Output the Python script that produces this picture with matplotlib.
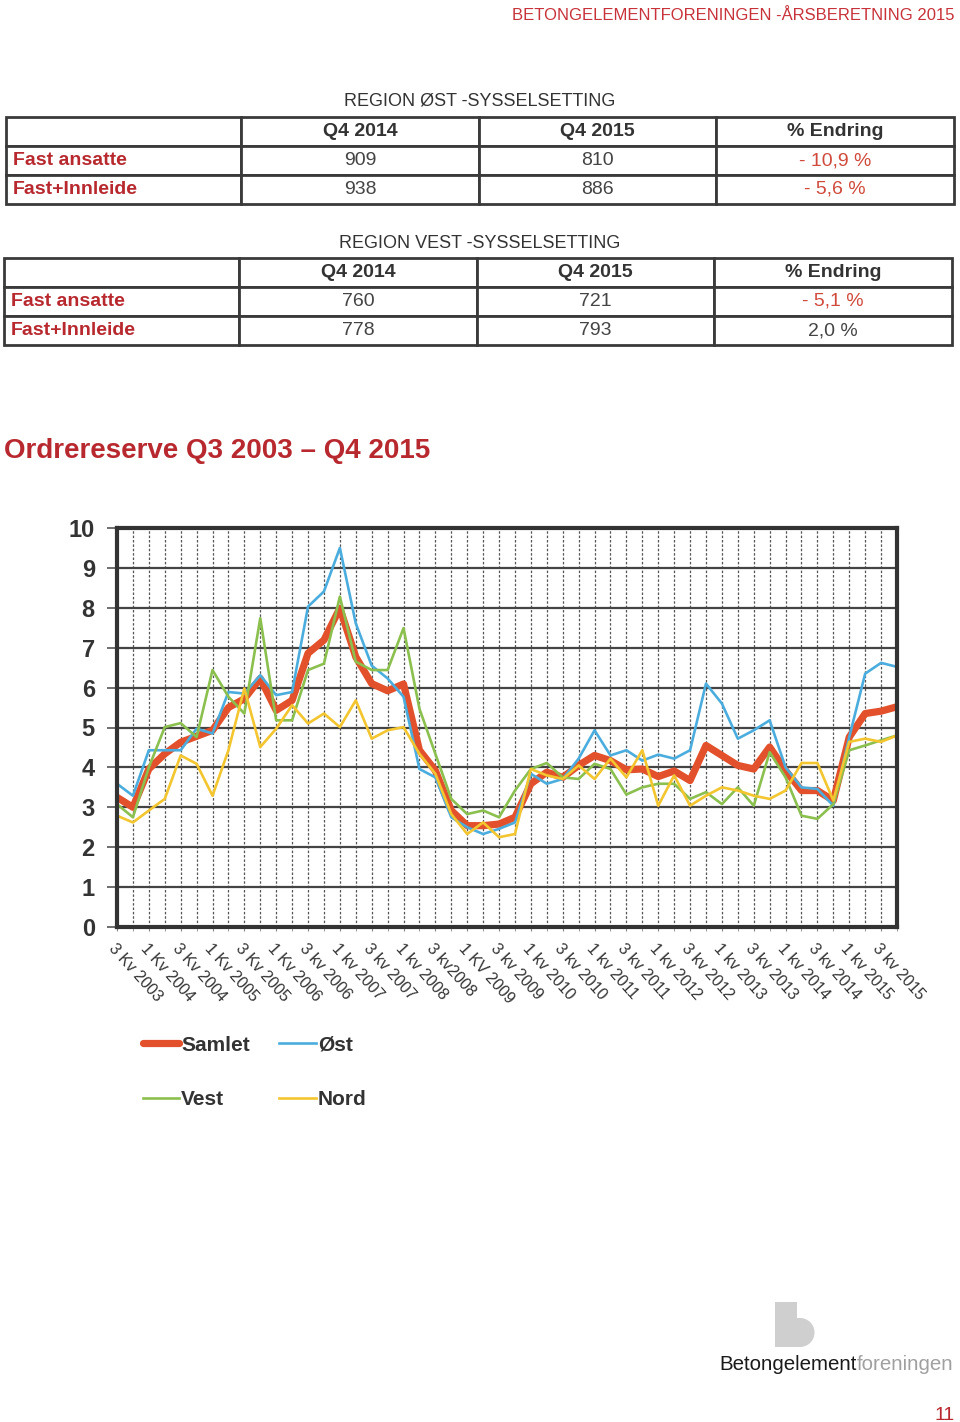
import matplotlib
matplotlib.use("Agg")
import matplotlib.pyplot as plt
import numpy as np
from matplotlib.patches import Rectangle, Wedge

# ---- data ----
quarter_labels = ["3 Kv 2003", "1 Kv 2004", "3 Kv 2004", "1 Kv 2005", "3 Kv 2005",
                  "1 Kv 2006", "3 kv 2006", "1 kv 2007", "3 kv 2007", "1 kv 2008",
                  "3 kv2008", "1 KV 2009", "3 kv 2009", "1 kv 2010", "3 kv 2010",
                  "1 kv 2011", "3 kv 2011", "1 kv 2012", "3 kv 2012", "1 kv 2013",
                  "3 kv 2013", "1 kv 2014", "3 kv 2014", "1 kv 2015", "3 kv 2015"]

samlet = [3.25, 3.0, 3.96, 4.34, 4.63, 4.78, 4.93, 5.5, 5.72, 6.23,
          5.43, 5.68, 6.86, 7.19, 7.99, 6.77, 6.1, 5.92, 6.09, 4.43,
          3.92, 2.92, 2.54, 2.54, 2.58, 2.75, 3.59, 3.88, 3.75, 4.05,
          4.3, 4.17, 3.94, 3.96, 3.77, 3.91, 3.67, 4.55, 4.3, 4.05,
          3.96, 4.51, 3.92, 3.42, 3.42, 3.17, 4.76, 5.35, 5.41, 5.52]
ost = [3.59, 3.29, 4.43, 4.43, 4.43, 4.97, 4.85, 5.89, 5.85, 6.31,
       5.81, 5.89, 8.03, 8.41, 9.5, 7.61, 6.55, 6.23, 5.77, 3.96,
       3.75, 2.75, 2.5, 2.33, 2.46, 2.62, 3.84, 3.59, 3.71, 4.22,
       4.93, 4.3, 4.43, 4.17, 4.32, 4.22, 4.43, 6.1, 5.6, 4.72,
       4.93, 5.18, 4.0, 3.5, 3.46, 3.04, 4.76, 6.35, 6.62, 6.52]
vest = [3.08, 2.75, 4.0, 5.01, 5.11, 4.76, 6.44, 5.77, 5.35, 7.74,
        5.18, 5.18, 6.44, 6.6, 8.28, 6.65, 6.44, 6.44, 7.49, 5.47,
        4.34, 3.21, 2.83, 2.92, 2.75, 3.42, 3.96, 4.11, 3.75, 3.71,
        4.09, 3.96, 3.32, 3.5, 3.59, 3.59, 3.21, 3.38, 3.08, 3.5,
        3.04, 4.38, 3.75, 2.79, 2.71, 3.08, 4.43, 4.55, 4.68, 4.8]
nord = [2.79, 2.62, 2.92, 3.21, 4.3, 4.09, 3.29, 4.43, 5.98, 4.51,
        4.97, 5.56, 5.1, 5.35, 5.01, 5.68, 4.72, 4.93, 5.01, 4.34,
        3.84, 2.83, 2.33, 2.62, 2.25, 2.33, 3.96, 3.8, 3.71, 4.05,
        3.71, 4.22, 3.75, 4.43, 3.04, 3.8, 3.04, 3.29, 3.5, 3.42,
        3.29, 3.21, 3.42, 4.11, 4.11, 3.17, 4.64, 4.72, 4.64, 4.8]

tab_cols = ["", "Q4 2014", "Q4 2015", "% Endring"]
ost_rows = ["Fast ansatte", "Fast+Innleide"]
ost_q4_2014 = ["909", "938"]
ost_q4_2015 = ["810", "886"]
ost_change = ["- 10,9 %", "- 5,6 %"]
vest_rows = ["Fast ansatte", "Fast+Innleide"]
vest_q4_2014 = ["760", "778"]
vest_q4_2015 = ["721", "793"]
vest_change = ["- 5,1 %", "2,0 %"]

RED = "#b8292f"
W, H = 960, 1422
arial = ["Liberation Sans", "DejaVu Sans"]

fig = plt.figure(figsize=(W / 100, H / 100), dpi=100)

# page overlay in pixel coords
page = fig.add_axes([0, 0, 1, 1])
page.set_xlim(0, W)
page.set_ylim(H, 0)
page.axis("off")

page.text(955, 16, "BETONGELEMENTFORENINGEN -ÅRSBERETNING 2015", ha="right", va="center",
          color="#c8323a", fontsize=12, family=arial)
page.text(4, 451, "Ordrereserve Q3 2003 \u2013 Q4 2015", ha="left", va="center",
          color=RED, fontsize=20, fontweight="bold", family=arial)
page.text(480, 101, "REGION ØST -SYSSELSETTING", ha="center", va="center",
          color="#333333", fontsize=13, family=arial)
page.text(480, 243, "REGION VEST -SYSSELSETTING", ha="center", va="center",
          color="#333333", fontsize=13, family=arial)

# logo
page.add_patch(Rectangle((775, 1302), 22, 45, color="#cfcfcf", lw=0))
page.add_patch(Rectangle((796, 1318), 4, 29, color="#cfcfcf", lw=0))
page.add_patch(Wedge((800, 1332.5), 14.5, -90, 90, color="#cfcfcf", lw=0))
page.text(857, 1370, "Betongelement", ha="right", va="baseline", color="#1a1a1a",
          fontsize=14.8, family=arial)
page.text(857, 1370, "foreningen", ha="left", va="baseline", color="#a0a0a0",
          fontsize=14.8, family=arial)
page.text(955, 1420, "11", ha="right", va="baseline", color=RED, fontsize=14, family=arial)


def make_table(x0, y0, x1, y1, rows, c1, c2, c3):
    tax = fig.add_axes([x0 / W, 1 - y1 / H, (x1 - x0) / W, (y1 - y0) / H])
    tax.axis("off")
    cells = [tab_cols] + [[r, a, b, c] for r, a, b, c in zip(rows, c1, c2, c3)]
    tbl = tax.table(cellText=cells, bbox=[0, 0, 1, 1],
                    colWidths=[0.248, 0.251, 0.250, 0.251])
    tbl.auto_set_font_size(False)
    for (r, c), cell in tbl.get_celld().items():
        cell.set_edgecolor("#3a3a3a")
        cell.set_linewidth(2)
        t = cell.get_text()
        t.set_fontsize(14)
        t.set_family(arial)
        if c == 0:
            cell._loc = "left"
            t.set_ha("left")
            cell.PAD = 0.03
            t.set_color(RED)
            t.set_fontweight("bold")
        else:
            t.set_ha("center")
            cell._loc = "center"
            if r == 0:
                t.set_fontweight("bold")
                t.set_color("#333333")
            elif c == 3 and t.get_text().startswith("-"):
                t.set_color("#d04a3c")
            else:
                t.set_color("#444444")
    return tax


make_table(6, 117, 954, 204, ost_rows, ost_q4_2014, ost_q4_2015, ost_change)
make_table(4, 258, 952, 345, vest_rows, vest_q4_2014, vest_q4_2015, vest_change)

# ---- chart ----
ax = fig.add_axes([117 / W, 1 - 927 / H, (897 - 117) / W, (927 - 528) / H])
x = np.arange(len(samlet))
ax.plot(x, samlet, color="#e2512b", lw=5.2, solid_capstyle="round", label="Samlet", zorder=3)
ax.plot(x, ost, color="#4badde", lw=1.9, label="Øst", zorder=4)
ax.plot(x, vest, color="#8bc04f", lw=1.9, label="Vest", zorder=5)
ax.plot(x, nord, color="#f3c52e", lw=1.9, label="Nord", zorder=6)

ax.set_xlim(0, len(samlet) - 1)
ax.set_ylim(0, 10)
ax.set_yticks(range(0, 11))
ax.set_yticklabels([str(v) for v in range(0, 11)], fontsize=17, fontweight="bold",
                   family=arial, color="#333333")
ax.set_xticks(x[::2])
ax.set_xticks(x, minor=True)
ax.set_xticklabels(quarter_labels, rotation=-48, ha="left", va="top",
                   rotation_mode="anchor", fontsize=11.5, family=arial, color="#333333")
ax.tick_params(axis="y", length=7, width=1.2, color="#555555", pad=9)
ax.tick_params(axis="x", which="both", length=3, color="#888888", pad=7)
ax.grid(axis="y", color="#444444", lw=1.6, zorder=1)
ax.grid(axis="x", which="both", color="#555555", lw=0.9, ls=(0, (2, 1.5)), zorder=1)
ax.set_axisbelow(True)
for s in ax.spines.values():
    s.set_color("#333333")
    s.set_linewidth(3)
    s.set_zorder(7)

h, l = ax.get_legend_handles_labels()
order = [0, 2, 1, 3]
fig.legend([h[i] for i in order], [l[i] for i in order], ncol=2, frameon=False,
           loc="upper left", bbox_to_anchor=(124 / W, 1 - 1017 / H),
           prop={"family": arial, "weight": "bold", "size": 15},
           labelcolor="#333333", handlelength=1.75, handletextpad=0.1,
           labelspacing=1.7, columnspacing=1.4)

fig.savefig("out.png", dpi=100)
